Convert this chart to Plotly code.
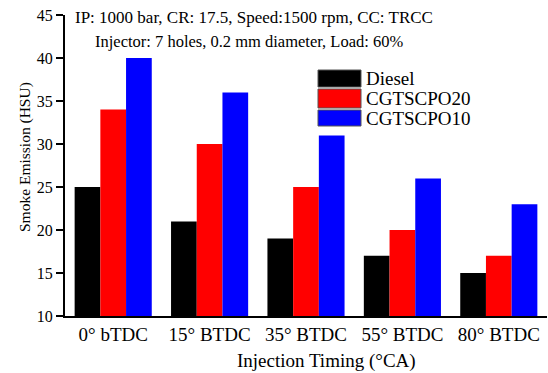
import plotly.graph_objects as go

categories = ["0° bTDC", "15° BTDC", "35° BTDC", "55° BTDC", "80° BTDC"]
series_names = ["Diesel", "CGTSCPO20", "CGTSCPO10"]
diesel = [25, 21, 19, 17, 15]
cgtscpo20 = [34, 30, 25, 20, 17]
cgtscpo10 = [40, 36, 31, 26, 23]
colors = ["#000000", "#FF0000", "#0000FF"]

FONT = "Liberation Serif, Times New Roman, serif"

fig = go.Figure()
for name, vals, col in zip(series_names, [diesel, cgtscpo20, cgtscpo10], colors):
    fig.add_trace(go.Bar(x=categories, y=vals, name=name, marker=dict(color=col, line=dict(width=0)),
                         showlegend=False))

W, H = 548, 373
ml, mr, mt, mb = 65, 1, 15, 57
pw, ph = W - ml - mr, H - mt - mb

def px_to_paper(x, y):
    return (x - ml) / pw, 1 - (y - mt) / ph

# custom legend (boxes + labels)
leg_x0, leg_x1 = 318, 361
leg_rows = [(70, 87), (89, 108), (110, 126)]
for (y0, y1), name, col in zip(leg_rows, series_names, colors):
    ax0, ay0 = px_to_paper(leg_x0, y0)
    ax1, ay1 = px_to_paper(leg_x1, y1)
    fig.add_shape(type="rect", xref="paper", yref="paper", x0=ax0, x1=ax1, y0=ay1, y1=ay0,
                  fillcolor=col, line=dict(color="#555555", width=1))
    tx, ty = px_to_paper(364, (y0 + y1) / 2)
    fig.add_annotation(xref="paper", yref="paper", x=tx, y=ty, text=name, showarrow=False,
                       xanchor="left", yanchor="middle", font=dict(family=FONT, size=19, color="black"))

ax, ay = px_to_paper(73, 17)
fig.add_annotation(xref="paper", yref="paper", x=ax, y=ay,
                   text="IP: 1000 bar, CR: 17.5, Speed:1500 rpm, CC: TRCC",
                   showarrow=False, xanchor="left", yanchor="middle",
                   font=dict(family=FONT, size=17, color="black"))
ax, ay = px_to_paper(93, 41)
fig.add_annotation(xref="paper", yref="paper", x=ax, y=ay,
                   text="Injector: 7 holes, 0.2 mm diameter, Load: 60%",
                   showarrow=False, xanchor="left", yanchor="middle",
                   font=dict(family=FONT, size=16.5, color="black"))

# axis titles
ax, ay = px_to_paper(326, 361)
fig.add_annotation(xref="paper", yref="paper", x=ax, y=ay, text="Injection Timing (°CA)",
                   showarrow=False, xanchor="center", yanchor="middle",
                   font=dict(family=FONT, size=19, color="black"))
ax, ay = px_to_paper(25, 157)
fig.add_annotation(xref="paper", yref="paper", x=ax, y=ay, text="Smoke Emission (HSU)",
                   showarrow=False, xanchor="center", yanchor="middle", textangle=-90,
                   font=dict(family=FONT, size=15.5, color="black"))

fig.update_layout(
    width=W, height=H,
    margin=dict(l=ml, r=mr, t=mt, b=mb, autoexpand=False),
    paper_bgcolor="white", plot_bgcolor="white",
    barmode="group", bargap=0.2, bargroupgap=0,
    font=dict(family=FONT, color="black"),
)
fig.update_xaxes(range=[-0.5, 4.5], showline=True, linecolor="black", linewidth=2,
                 ticks="", tickfont=dict(family=FONT, size=19, color="black"),
                 showgrid=False, zeroline=False, automargin=False)
fig.update_yaxes(range=[10, 45], dtick=5, showline=True, linecolor="black", linewidth=2,
                 ticks="outside", ticklen=7, tickwidth=2, tickcolor="black",
                 tickfont=dict(family=FONT, size=16, color="black"),
                 showgrid=False, zeroline=False, automargin=False)

fig.write_html("out.html", config={"displayModeBar": False},
               post_script="document.body.style.margin='0px';document.body.style.overflow='hidden';")
